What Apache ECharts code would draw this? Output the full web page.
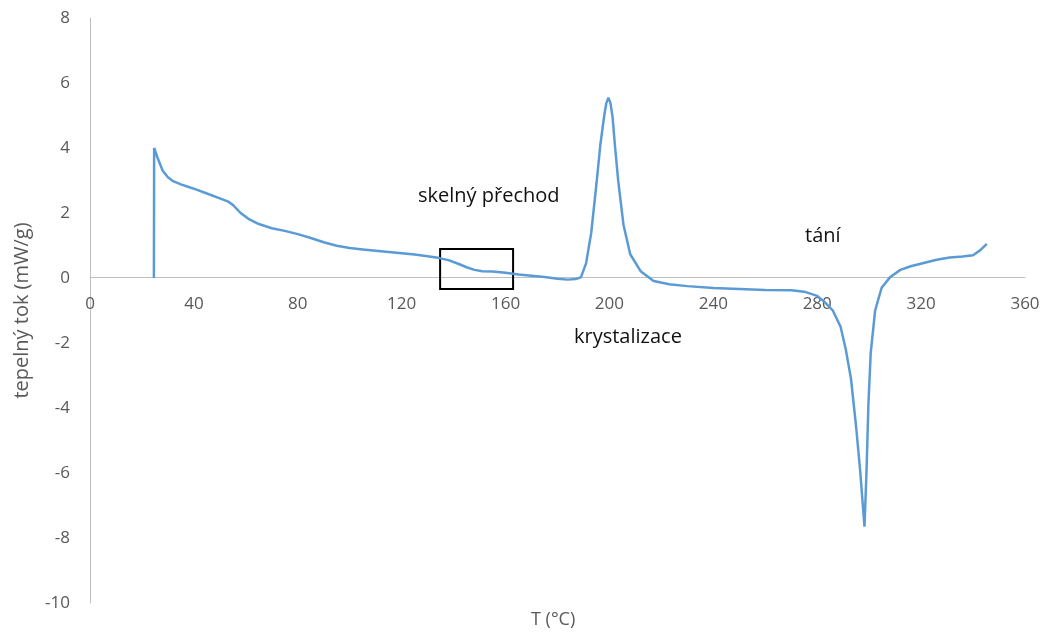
<!DOCTYPE html>
<html>
<head>
<meta charset="utf-8">
<script src="https://cdn.jsdelivr.net/npm/echarts@6/dist/echarts.min.js"></script>
<style>
html, body { margin: 0; padding: 0; background: #fff; }
#main { width: 1048px; height: 635px; }
</style>
</head>
<body>
<div id="main"></div>
<script>
// DSC křivka - teplota a tepelný tok
var teplota = [24.6, 24.7, 26, 28, 30, 32, 35, 38, 41, 45, 50, 53, 55, 58, 61, 65, 70, 75, 80, 85,
  90, 95, 100, 105, 110, 115, 120, 125, 130, 134, 138, 142, 145, 148, 151, 155, 160, 165, 170, 175,
  180, 184, 187, 189, 191, 193, 195, 196.5, 198, 198.8, 199.6, 200.4, 201.2, 202.2, 203.4, 205.4, 208, 212, 217, 223, 230, 240,
  250, 260, 270, 275, 280, 283, 286, 289, 291, 293, 295, 296.5, 298.2, 299, 299.7, 300.6, 302.3, 304.8, 308, 312,
  316, 321, 326, 331, 336, 340, 342.7, 345.3];
var tok = [0, 4.0, 3.7, 3.3, 3.1, 2.98, 2.88, 2.8, 2.72, 2.6, 2.45, 2.36, 2.25, 2.0, 1.82, 1.66, 1.53, 1.45, 1.35, 1.23,
  1.1, 0.99, 0.92, 0.88, 0.84, 0.8, 0.76, 0.72, 0.67, 0.62, 0.55, 0.43, 0.33, 0.25, 0.21, 0.2, 0.16, 0.11, 0.07, 0.03,
  -0.02, -0.05, -0.03, 0.02, 0.45, 1.4, 2.9, 4.1, 5.0, 5.38, 5.55, 5.38, 4.95, 4.0, 2.97, 1.64, 0.73, 0.21, -0.09, -0.19, -0.25, -0.31,
  -0.34, -0.37, -0.38, -0.42, -0.55, -0.75, -1.0, -1.5, -2.2, -3.1, -4.6, -5.9, -7.65, -5.9, -3.9, -2.3, -1.0, -0.3, 0.02, 0.25,
  0.36, 0.46, 0.56, 0.63, 0.66, 0.7, 0.85, 1.05];
// oblast skelného přechodu (rámeček)
var rameckT = [134.8, 162.9];
var rameckY = [0.89, -0.34];

var data = teplota.map(function (t, i) { return [t, tok[i]]; });

var option = {
  animation: false,
  grid: { left: 90, right: 23, top: 18, bottom: 32 },
  xAxis: {
    type: 'value',
    min: 0, max: 360, interval: 40,
    offset: -326,   // osa x posunuta na úroveň y = 0
    axisLine: { onZero: false, lineStyle: { color: '#bfbfbf', width: 1 } },
    axisTick: { show: false },
    splitLine: { show: false },
    axisLabel: { color: '#595959', fontSize: 17, margin: 19, fontFamily: 'Open Sans' }
  },
  yAxis: {
    type: 'value',
    min: -10, max: 8, interval: 2,
    name: 'tepelný tok (mW/g)',
    nameLocation: 'middle',
    nameGap: 58,
    nameTextStyle: { color: '#595959', fontSize: 20, fontFamily: 'Open Sans' },
    axisLine: { show: true, lineStyle: { color: '#bfbfbf', width: 1 } },
    axisTick: { show: false },
    splitLine: { show: false },
    axisLabel: { color: '#595959', fontSize: 17, margin: 20, fontFamily: 'Open Sans' }
  },
  series: [{
    type: 'line',
    data: data,
    showSymbol: false,
    smooth: false,
    lineStyle: { color: '#5b9bd5', width: 2.5 },
    markArea: {
      silent: true,
      itemStyle: { color: 'rgba(0,0,0,0)', borderColor: '#000', borderWidth: 2 },
      data: [[{ coord: [rameckT[0], rameckY[0]] }, { coord: [rameckT[1], rameckY[1]] }]]
    }
  }],
  graphic: [
    { type: 'text', left: 418, top: 186, style: { text: 'skelný přechod', fill: '#111', font: '20px "Open Sans"' } },
    { type: 'text', left: 574, top: 327, style: { text: 'krystalizace', fill: '#111', font: '20px "Open Sans"' } },
    { type: 'text', left: 805, top: 226, style: { text: 'tání', fill: '#111', font: '20px "Open Sans"' } },
    { type: 'text', left: 531, top: 611, style: { text: 'T (°C)', fill: '#595959', font: '18px "Open Sans"' } }
  ]
};

var myChart = echarts.init(document.getElementById('main'));
myChart.setOption(option);
</script>
</body>
</html>
